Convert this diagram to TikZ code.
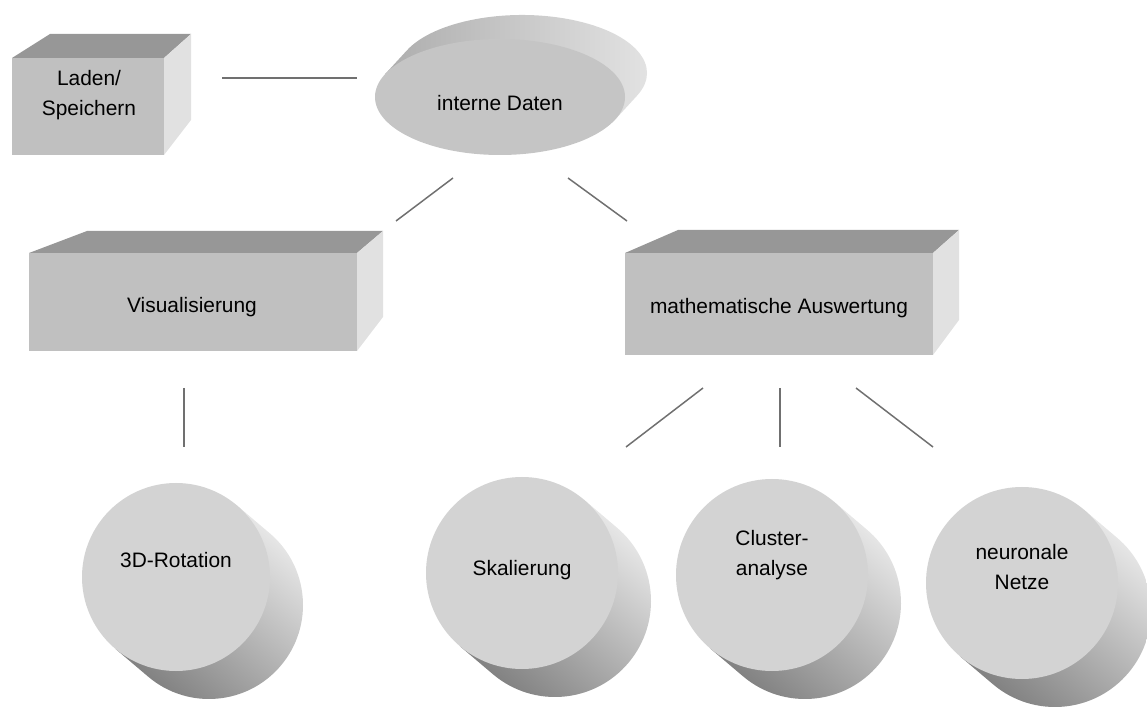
\documentclass[tikz,border=0pt]{standalone}
\usepackage{fontspec}
\setmainfont{Liberation Sans}
\usetikzlibrary{calc}
\definecolor{frontgray}{RGB}{192,192,192}
\definecolor{topgray}{RGB}{151,151,151}
\definecolor{sidegray}{RGB}{225,225,225}
\definecolor{discgray}{RGB}{211,211,211}
\definecolor{ovalgray}{RGB}{197,197,197}
\definecolor{linkgray}{RGB}{112,112,112}

\begin{document}
\begin{tikzpicture}[x=0.02cm,y=0.02cm,
  lbl/.style={font=\fontsize{11.9}{17}\selectfont, align=center, inner sep=0pt},
  link/.style={draw=linkgray, line width=0.85pt},
  frontface/.style={fill=frontgray},
  topface/.style={fill=topgray},
  sideface/.style={fill=sidegray},
  disc/.style={fill=discgray},
  mantle/.style={top color=white!92!black, bottom color=black!50, shading angle=-40}]
\useasboundingbox (0,0) rectangle (1147,-709);

% Laden/Speichern
\fill[topface] (12,-58) -- (50,-34) -- (191,-34) -- (164,-58) -- cycle;
\fill[sideface] (164,-58) -- (191,-34) -- (191,-120) -- (164,-155) -- cycle;
\fill[frontface] (12,-58) rectangle (164,-155);
\node[lbl] (laden) at (89,-95) {Laden/\\Speichern};

% interne Daten
\shade[left color=black!32, right color=white!90!black]
  ($(500,-97)+(157:125 and 58)$) -- ++(22,24)
  arc[start angle=157, end angle=-23, x radius=125, y radius=58] -- ++(-22,-24) -- cycle;
\fill[ovalgray] (500,-97) ellipse[x radius=125, y radius=58];
\node[lbl] (daten) at (500,-103) {interne Daten};

% Visualisierung
\fill[topface] (29,-253) -- (87,-231) -- (383,-231) -- (357,-253) -- cycle;
\fill[sideface] (357,-253) -- (383,-231) -- (383,-317) -- (357,-351) -- cycle;
\fill[frontface] (29,-253) rectangle (357,-351);
\node[lbl] (visu) at (192,-307) {Visualisierung};

% mathematische Auswertung
\fill[topface] (625,-253) -- (678,-230) -- (959,-230) -- (933,-253) -- cycle;
\fill[sideface] (933,-253) -- (959,-230) -- (959,-320) -- (933,-355) -- cycle;
\fill[frontface] (625,-253) rectangle (933,-355);
\node[lbl] (mathe) at (779,-308) {mathematische Auswertung};

% Zylinder
\foreach \cx/\cy/\r/\ty/\nm/\txt in {
    176/-577/94/-560/rot/{3D-Rotation},
    522/-573/96/-570/skal/{Skalierung},
    772/-575/96/-555/clus/{Cluster-\\analyse},
    1022/-583/96/-567/neuro/{neuronale\\Netze}}{
  \shade[mantle] ($(\cx,\cy)+(50:\r)$) -- ++(33,-28)
    arc[start angle=50, end angle=-130, radius=\r] -- ++(-33,28) -- cycle;
  \fill[disc] (\cx,\cy) circle[radius=\r];
  \node[lbl] (\nm) at (\cx,\ty) {\txt};
}

% Verbindungen
\coordinate (l1) at (222,-78);  \coordinate (d1) at (357,-78);
\coordinate (d2) at (453,-178); \coordinate (v1) at (396,-221);
\coordinate (d3) at (568,-178); \coordinate (m1) at (627,-221);
\coordinate (v2) at (184,-388); \coordinate (r1) at (184,-447);
\coordinate (m2) at (703,-388); \coordinate (s1) at (626,-447);
\coordinate (m3) at (780,-388); \coordinate (c1) at (780,-447);
\coordinate (m4) at (856,-388); \coordinate (n1) at (933,-447);
\foreach \a/\b in {l1/d1, d2/v1, d3/m1, v2/r1, m2/s1, m3/c1, m4/n1}
  \draw[link] (\a) -- (\b);
\end{tikzpicture}
\end{document}
